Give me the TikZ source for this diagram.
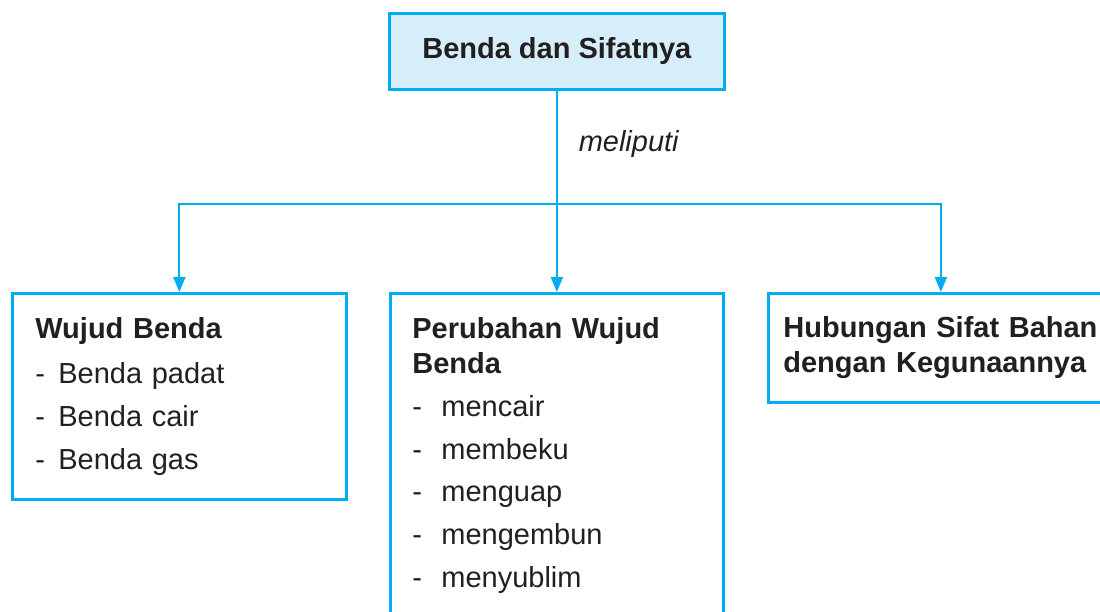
\documentclass[tikz,border=0pt]{standalone}
\usepackage{fontspec}
\setmainfont{Liberation Sans}
\usepackage{xcolor}
\usepackage{tikz}
\usetikzlibrary{positioning, arrows.meta}
\definecolor{biruGaris}{HTML}{00AEEF}
\definecolor{biruMuda}{HTML}{D5EEFA}
\definecolor{hitamTeks}{HTML}{231F20}

\newcommand{\butir}[2][0.46cm]{\makebox[#1][l]{-}#2}

\begin{document}
\begin{tikzpicture}[
    x=0.02cm, y=-0.02cm,
    kotak/.style={
        rectangle,
        draw=biruGaris,
        line width=1.6pt,
        anchor=north west,
        align=left,
        text=hitamTeks,
        font=\fontsize{16.5}{20}\selectfont,
    },
    judulbox/.style={kotak, fill=biruMuda, align=center,
        minimum width=6.7cm, minimum height=1.52cm, font=\fontsize{16.5}{20}\selectfont\bfseries},
    wujudbox/.style={kotak, inner xsep=0.46cm, text width=5.76cm, minimum height=4.12cm},
    ubahbox/.style={kotak, inner xsep=0.44cm, text width=5.78cm, minimum height=6.48cm},
    gunabox/.style={kotak, inner xsep=0.3cm, text width=6.3cm, minimum height=2.18cm},
    garis/.style={draw=biruGaris, line width=1.2pt},
    panah/.style={garis, -{Triangle[length=0.3cm, width=0.24cm]}},
    ket/.style={font=\fontsize{16.5}{20}\selectfont\itshape, text=hitamTeks},
]
\useasboundingbox (0,0) rectangle (1100,612);

\node[judulbox] (judul)     at (388, 12)  {Benda dan Sifatnya};
\node[wujudbox] (wujud)     at ( 11,292)  {{\bfseries Wujud Benda}\\[5.5pt]
    \butir{Benda padat}\\[4.4pt]
    \butir{Benda cair}\\[4.4pt]
    \butir{Benda gas}};
\node[ubahbox]  (perubahan) at (389,292)  {{\bfseries Perubahan Wujud}\\
    {\bfseries Benda}\\[4.4pt]
    \butir[0.58cm]{mencair}\\[4.4pt]
    \butir[0.58cm]{membeku}\\[4.4pt]
    \butir[0.58cm]{menguap}\\[4.4pt]
    \butir[0.58cm]{mengembun}\\[4.4pt]
    \butir[0.58cm]{menyublim}};
\node[gunabox]  (guna)      at (767,292)  {{\bfseries Hubungan Sifat Bahan}\\
    {\bfseries dengan Kegunaannya}};

\coordinate (cabang) at (judul.south |- 0,204);

\draw[garis] (judul) -- node[ket, right=0.3cm, pos=0.47] {meliputi} (cabang);
\draw[panah] (cabang) -| (wujud);
\draw[panah] (cabang) -| (perubahan);
\draw[panah] (cabang) -| (guna);

\end{tikzpicture}
\end{document}
